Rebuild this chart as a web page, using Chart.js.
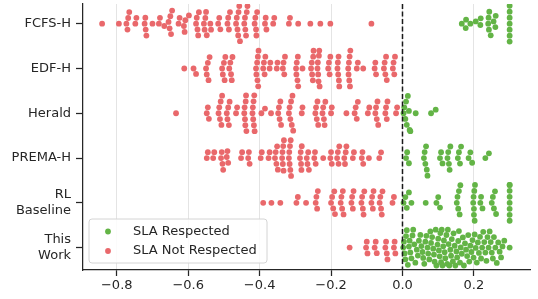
<!DOCTYPE html>
<html>
<head>
<meta charset="utf-8">
<script src="https://cdn.jsdelivr.net/npm/chart.js@4.4.1/dist/chart.umd.min.js"></script>
<style>
  html, body { margin: 0; padding: 0; background: #ffffff; }
  #wrap { width: 538px; height: 299px; position: relative; }
</style>
</head>
<body>
<div id="wrap"><canvas id="swarm"></canvas></div>
<script>
// Categories (y axis, top to bottom) and x ticks
const categories = [['FCFS-H'], ['EDF-H'], ['Herald'], ['PREMA-H'], ['RL', 'Baseline'], ['This', 'Work']];
const xTicks = [-0.8, -0.6, -0.4, -0.2, 0.0, 0.2];
const seriesLabels = ['SLA Respected', 'SLA Not Respected'];

// Per-category values (negative = SLA not respected)
const fcfsMissed = [
  -0.841, -0.794, -0.773, -0.770, -0.768, -0.765, -0.748, -0.745,
  -0.722, -0.720, -0.719, -0.717, -0.700, -0.682, -0.679, -0.667,
  -0.655, -0.652, -0.650, -0.648, -0.645, -0.627, -0.624,
  -0.612, -0.610, -0.608, -0.598, -0.578, -0.576, -0.574, -0.572, -0.570,
  -0.556, -0.554, -0.552, -0.550, -0.548, -0.538, -0.536,
  -0.516, -0.513, -0.510, -0.490, -0.488, -0.486, -0.483,
  -0.466, -0.464, -0.462, -0.460, -0.459, -0.457, -0.455,
  -0.443, -0.441, -0.440, -0.438, -0.436, -0.434,
  -0.414, -0.412, -0.410, -0.409, -0.407, -0.385, -0.383, -0.381,
  -0.362, -0.359, -0.318, -0.315, -0.292, -0.258, -0.230, -0.202, -0.087
];
const fcfsMet = [
  0.166, 0.177, 0.178, 0.190, 0.205, 0.218, 0.219, 0.240, 0.241, 0.242, 0.243,
  0.247, 0.255, 0.260, 0.261,
  0.300, 0.300, 0.300, 0.300, 0.300, 0.300, 0.300
];

const edfMissed = [
  -0.611, -0.585, -0.578, -0.550, -0.548, -0.545, -0.543, -0.540,
  -0.505, -0.503, -0.500, -0.498, -0.496, -0.485, -0.482, -0.480, -0.478, -0.476,
  -0.410, -0.409, -0.407, -0.406, -0.405, -0.404, -0.403,
  -0.390, -0.388, -0.386, -0.384, -0.372, -0.370, -0.352, -0.350,
  -0.335, -0.333, -0.331, -0.329,
  -0.298, -0.297, -0.296, -0.294, -0.293, -0.292, -0.280,
  -0.256, -0.254, -0.253, -0.251, -0.250, -0.249,
  -0.238, -0.237, -0.236, -0.235, -0.234, -0.233, -0.232,
  -0.208, -0.206, -0.204, -0.202,
  -0.182, -0.181, -0.180, -0.179, -0.178, -0.177,
  -0.152, -0.151, -0.150, -0.149, -0.148, -0.147, -0.146,
  -0.128, -0.125, -0.110, -0.078, -0.076, -0.074,
  -0.052, -0.050, -0.048, -0.046, -0.044, -0.027, -0.025, -0.023, -0.021
];
const edfMet = [];

const heraldMissed = [
  -0.634, -0.548, -0.545, -0.542,
  -0.515, -0.513, -0.511, -0.509, -0.507, -0.505,
  -0.492, -0.490, -0.488, -0.486, -0.484, -0.466, -0.463,
  -0.443, -0.442, -0.441, -0.440, -0.439, -0.438, -0.437,
  -0.420, -0.419, -0.418, -0.417, -0.416, -0.415, -0.414,
  -0.395, -0.385, -0.368,
  -0.348, -0.346, -0.344, -0.342, -0.340,
  -0.318, -0.316, -0.314, -0.312, -0.310, -0.308, -0.306,
  -0.282, -0.280,
  -0.244, -0.242, -0.240, -0.238, -0.236,
  -0.224, -0.222, -0.220, -0.218, -0.216, -0.200, -0.198,
  -0.157, -0.134, -0.131, -0.128, -0.125, -0.097, -0.093,
  -0.076, -0.074, -0.072, -0.070, -0.068,
  -0.048, -0.046, -0.044, -0.042, -0.018, -0.015
];
const heraldMet = [0.003, 0.005, 0.008, 0.010, 0.012, 0.015, 0.018, 0.020, 0.022, 0.037, 0.080, 0.093];

const premaMissed = [
  -0.548, -0.545, -0.530, -0.527, -0.508, -0.506, -0.504, -0.502,
  -0.492, -0.490, -0.488, -0.452, -0.449, -0.432, -0.430, -0.428,
  -0.397, -0.394, -0.375, -0.372, -0.357, -0.355, -0.353, -0.351, -0.349,
  -0.337, -0.336, -0.335, -0.334, -0.333, -0.332,
  -0.318, -0.317, -0.316, -0.315, -0.314, -0.313, -0.312,
  -0.287, -0.285, -0.284, -0.283, -0.282, -0.268, -0.266, -0.264, -0.262,
  -0.247, -0.245, -0.243, -0.222, -0.202, -0.200, -0.198,
  -0.183, -0.181, -0.179, -0.177, -0.163, -0.161, -0.159, -0.157,
  -0.139, -0.136, -0.114, -0.112, -0.110, -0.094, -0.065, -0.060
];
const premaMet = [
  0.010, 0.013, 0.018, 0.060, 0.062, 0.064, 0.066, 0.068, 0.070,
  0.105, 0.108, 0.112, 0.126, 0.128, 0.130, 0.132, 0.134,
  0.155, 0.158, 0.161, 0.164, 0.185, 0.190, 0.195, 0.232, 0.242
];

const rlMissed = [
  -0.390, -0.367, -0.342, -0.297, -0.293, -0.270,
  -0.243, -0.241, -0.239, -0.237,
  -0.200, -0.197, -0.194, -0.191, -0.189,
  -0.173, -0.171, -0.169, -0.167, -0.165,
  -0.143, -0.141, -0.139, -0.137,
  -0.115, -0.113, -0.111, -0.109, -0.107,
  -0.087, -0.085, -0.083, -0.081,
  -0.064, -0.062, -0.060, -0.058, -0.056, -0.028, -0.024
];
const rlMet = [
  0.003, 0.008, 0.012, 0.018, 0.025, 0.065, 0.095, 0.100, 0.105,
  0.152, 0.154, 0.156, 0.158, 0.160, 0.162,
  0.198, 0.199, 0.200, 0.200, 0.201, 0.202, 0.203,
  0.218, 0.220, 0.224, 0.250, 0.253, 0.256, 0.259, 0.262,
  0.300, 0.300, 0.300, 0.300, 0.300, 0.300, 0.300, 0.300
];

const oursMissed = [
  -0.148, -0.102, -0.100, -0.098, -0.078, -0.075, -0.072,
  -0.048, -0.046, -0.044, -0.042, -0.024, -0.022, -0.020
];
const oursMet = [
  0.002, 0.004, 0.006, 0.008, 0.010, 0.012, 0.015, 0.018, 0.020, 0.022,
  0.025, 0.028, 0.030, 0.033, 0.036, 0.040, 0.043, 0.046, 0.050, 0.053,
  0.056, 0.058, 0.061, 0.064, 0.067, 0.070, 0.072, 0.075, 0.078, 0.080,
  0.083, 0.086, 0.088, 0.090, 0.093, 0.095, 0.098, 0.100, 0.102, 0.104,
  0.106, 0.108, 0.110, 0.112, 0.114, 0.116, 0.118, 0.120, 0.123, 0.125,
  0.127, 0.129, 0.131, 0.134, 0.136, 0.138, 0.141, 0.143, 0.146, 0.148,
  0.151, 0.153, 0.156, 0.158, 0.161, 0.163, 0.166, 0.169, 0.172, 0.175,
  0.178, 0.181, 0.184, 0.187, 0.190, 0.193, 0.196, 0.199, 0.202, 0.205,
  0.208, 0.211, 0.214, 0.217, 0.220, 0.223, 0.226, 0.229, 0.232, 0.235,
  0.238, 0.241, 0.244, 0.247, 0.250, 0.253, 0.256, 0.260, 0.264, 0.268,
  0.272, 0.276, 0.280, 0.285, 0.300
];

const missedByCat = [fcfsMissed, edfMissed, heraldMissed, premaMissed, rlMissed, oursMissed];
const metByCat = [fcfsMet, edfMet, heraldMet, premaMet, rlMet, oursMet];

const GREEN = '#63b446';
const RED = '#e9686b';
const INK = '#262626';
const POINT_R = 2.9;

Chart.defaults.font.family = "'DejaVu Sans', sans-serif";
Chart.defaults.font.size = 13;
Chart.defaults.color = INK;

// Dashed reference line at x = 0
const zeroLine = {
    id: 'zeroLine',
    afterDatasetsDraw(chart) {
        const { ctx, chartArea, scales } = chart;
        const x = scales.x.getPixelForValue(0);
        ctx.save();
        ctx.strokeStyle = '#1a1a1a';
        ctx.lineWidth = 1.5;
        ctx.setLineDash([5, 2.5]);
        ctx.beginPath();
        ctx.moveTo(x, chartArea.top);
        ctx.lineTo(x, chartArea.bottom);
        ctx.stroke();
        ctx.restore();
    }
};

// Legend box drawn inside the lower-left corner of the plot
const innerLegend = {
    id: 'innerLegend',
    afterDraw(chart) {
        const { ctx, chartArea } = chart;
        const left = chartArea.left + 6, w = 178, h = 44;
        const top = chartArea.bottom - 7 - h;
        ctx.save();
        ctx.beginPath();
        ctx.roundRect(left, top, w, h, 3);
        ctx.fillStyle = 'rgba(255,255,255,0.85)';
        ctx.fill();
        ctx.strokeStyle = '#d4d4d4';
        ctx.lineWidth = 1;
        ctx.stroke();
        const colors = [GREEN, RED];
        ctx.font = "13px 'DejaVu Sans', sans-serif";
        ctx.textBaseline = 'middle';
        ctx.fillStyle = INK;
        seriesLabels.forEach((label, i) => {
            const cy = top + 12.5 + i * 19.5;
            ctx.beginPath();
            ctx.arc(left + 19, cy, POINT_R, 0, Math.PI * 2);
            ctx.fillStyle = colors[i];
            ctx.fill();
            ctx.fillStyle = INK;
            ctx.fillText(label, left + 44, cy);
        });
        ctx.restore();
    }
};

const ctx = document.getElementById('swarm').getContext('2d');
const chart = new Chart(ctx, {
    type: 'scatter',
    data: {
        datasets: [
            { label: seriesLabels[0], data: [], backgroundColor: GREEN, pointRadius: POINT_R, borderWidth: 0 },
            { label: seriesLabels[1], data: [], backgroundColor: RED, pointRadius: POINT_R, borderWidth: 0 }
        ]
    },
    options: {
        responsive: true,
        maintainAspectRatio: false,
        animation: false,
        events: [],
        layout: { padding: { top: 0, left: 0, right: 8, bottom: 0 } },
        plugins: { legend: { display: false }, tooltip: { enabled: false } },
        scales: {
            x: {
                type: 'linear',
                min: -0.8945,
                max: 0.357,
                afterBuildTicks: scale => { scale.ticks = xTicks.map(v => ({ value: v })); },
                afterFit: scale => {
                    scale.height = 29;
                    scale.paddingLeft = 0;
                    scale.paddingRight = 0;
                },
                ticks: {
                    padding: 2,
                    callback: v => v.toFixed(1).replace('-', '\u2212')
                },
                grid: { color: '#e4e4e4', lineWidth: 1, tickColor: INK, tickLength: 6, tickWidth: 1.25 },
                border: { color: INK, width: 1.25 }
            },
            y: {
                type: 'linear',
                reverse: true,
                min: -0.44,
                max: 5.5,
                afterBuildTicks: scale => { scale.ticks = categories.map((c, i) => ({ value: i })); },
                afterFit: scale => {
                    scale.width = 83;
                    scale.paddingTop = 0;
                    scale.paddingBottom = 0;
                },
                ticks: {
                    padding: 5,
                    callback: v => categories[v]
                },
                grid: { drawOnChartArea: false, tickColor: INK, tickLength: 7, tickWidth: 1.25 },
                border: { color: INK, width: 1.25 }
            }
        }
    },
    plugins: [zeroLine, innerLegend]
});

// Beeswarm placement (seaborn style) in pixel space, then mapped back to data units
function layoutSwarm(chart) {
    const xs = chart.scales.x, ys = chart.scales.y;
    const band = Math.abs(ys.getPixelForValue(1) - ys.getPixelForValue(0));
    const half = band * 0.8 / 2;
    const d = 2 * POINT_R;
    const met = [], missed = [];

    categories.forEach((cat, i) => {
        const mid = ys.getPixelForValue(i);
        const pts = missedByCat[i].map(v => ({ v, ok: false }))
            .concat(metByCat[i].map(v => ({ v, ok: true })));
        pts.sort((a, b) => a.v - b.v);
        const placed = [];
        pts.forEach(p => {
            const px = xs.getPixelForValue(p.v);
            const near = placed.filter(q => Math.abs(q.px - px) < d);
            const cands = [mid];
            let upFirst = true;
            near.forEach(q => {
                const dx = px - q.px;
                const dy = Math.sqrt(Math.max(d * d - dx * dx, 0)) * 1.05;
                const a = q.py - dy, b = q.py + dy;
                if (upFirst) cands.push(a, b); else cands.push(b, a);
                upFirst = !upFirst;
            });
            const order = cands.map((c, k) => ({ c, k }))
                .sort((a, b) => (Math.abs(a.c - mid) - Math.abs(b.c - mid)) || (a.k - b.k));
            let py = mid;
            for (const { c } of order) {
                const ok = near.every(q => (q.px - px) ** 2 + (q.py - c) ** 2 >= d * d - 0.01);
                if (ok) { py = c; break; }
            }
            placed.push({ px, py, v: p.v, ok: p.ok });
        });
        placed.forEach(q => {
            const py = Math.max(mid - half, Math.min(mid + half, q.py));
            const pt = { x: q.v, y: ys.getValueForPixel(py) };
            (q.ok ? met : missed).push(pt);
        });
    });

    chart.data.datasets[0].data = met;
    chart.data.datasets[1].data = missed;
    chart.update('none');
}

layoutSwarm(chart);
</script>
</body>
</html>
